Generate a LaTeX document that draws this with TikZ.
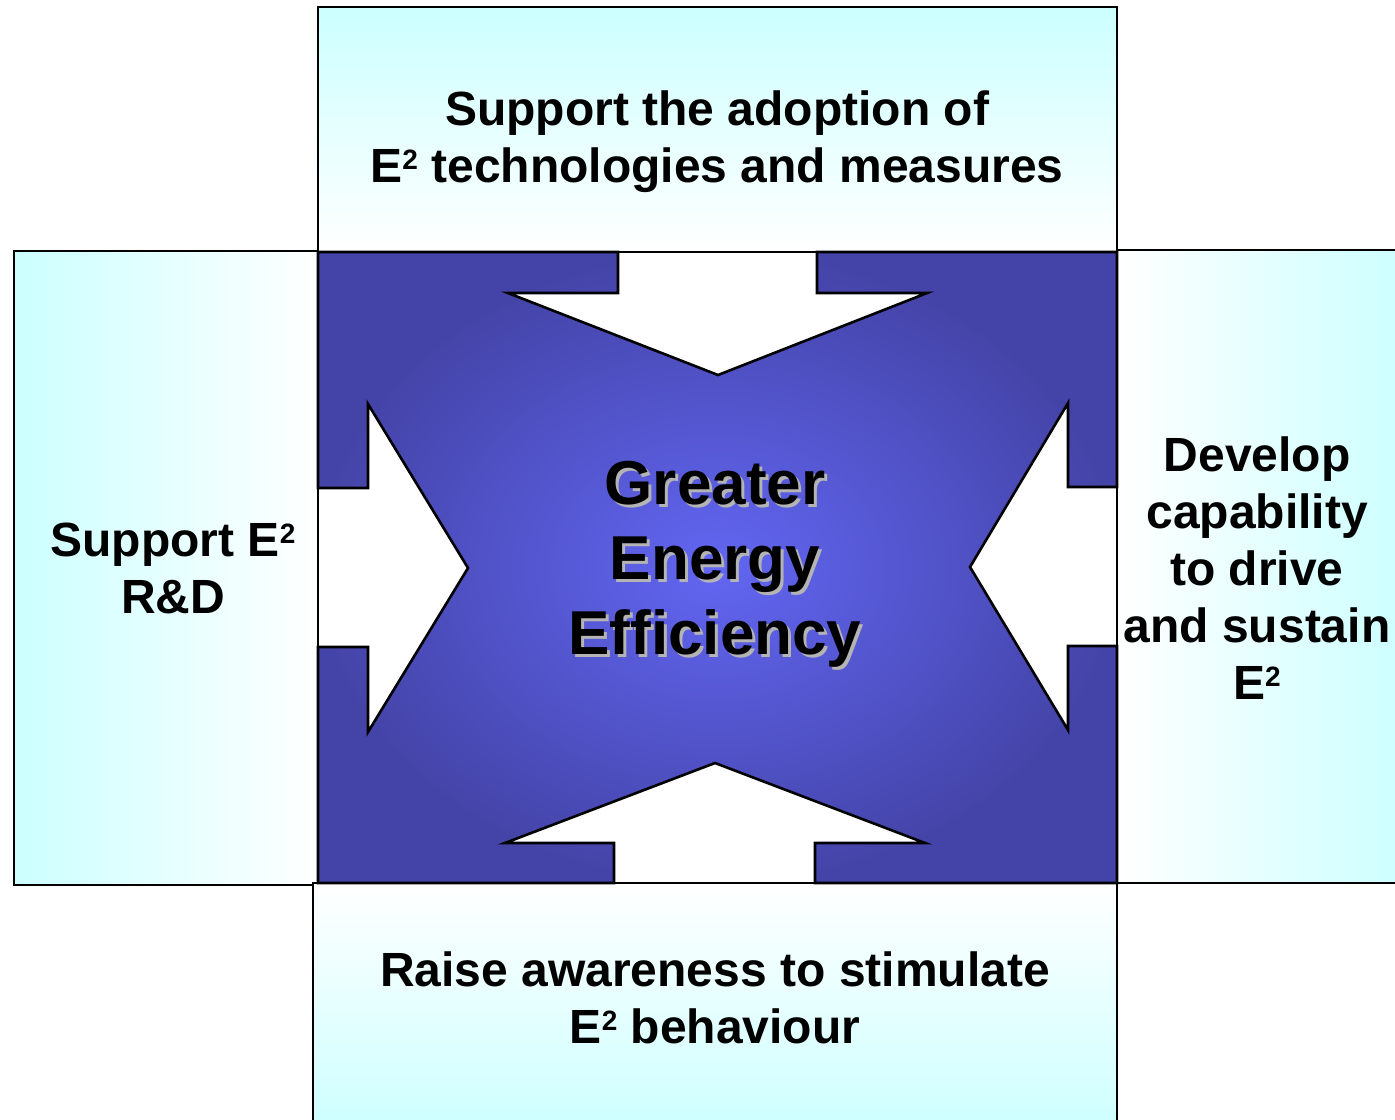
\documentclass[tikz,border=0pt]{standalone}
\usepackage{fontspec}
\setmainfont{Liberation Sans}

\definecolor{paleaqua}{RGB}{204,255,255}
\definecolor{coreblue}{RGB}{98,102,242}
\definecolor{rimblue}{RGB}{68,68,168}
\definecolor{shadowgray}{RGB}{180,180,180}

\newcommand{\etwo}{E\raisebox{6.5pt}{\fontsize{14}{14}\selectfont 2}}

\begin{document}
\begin{tikzpicture}[x=0.5pt,y=-0.5pt,
      panel/.style={draw=black,line width=1.3pt},
      caption/.style={align=center,inner sep=0pt,font=\fontsize{24}{28.5}\selectfont\bfseries},
      coretext/.style={align=center,inner sep=0pt,font=\fontsize{31}{37.5}\selectfont\bfseries}]
         \useasboundingbox (0,0) rectangle (1395,1119);
         % four panels round the centre
         \shade[panel,top color=paleaqua,bottom color=white] (318,7) rectangle (1117,252);
         \shade[panel,left color=paleaqua,right color=white] (14,251) rectangle (318,885);
         \shade[panel,left color=white,right color=paleaqua] (1117,250) rectangle (1410,883);
         \shade[panel,top color=white,bottom color=paleaqua] (313,883) rectangle (1117,1135);
         % blue square with the four arrows cut out
         \shade[panel,inner color=coreblue,outer color=rimblue]
            (318,252) -- (618,252) -- (618,293) -- (508,293) -- (718,375)
            -- (927,293) -- (817,293) -- (817,252) -- (1117,252)
            -- (1117,487) -- (1068,487) -- (1068,403) -- (970,567)
            -- (1068,730) -- (1068,646) -- (1117,646) -- (1117,883)
            -- (815,883) -- (815,843) -- (925,843) -- (715,763)
            -- (505,843) -- (614,843) -- (614,883) -- (318,883)
            -- (318,647) -- (368,647) -- (368,732) -- (468,568)
            -- (368,404) -- (368,488) -- (318,488) -- cycle ;
         \node[caption] (adopt) at (717,142) {Support the adoption of\\\etwo{} technologies and measures} ;
         \node[caption] (research) at (173,568) {Support \etwo\\R\&D} ;
         \node[caption] (capability) at (1257,568) {Develop\\capability\\to drive\\and sustain\\\etwo} ;
         \node[caption] (awareness) at (715,998) {Raise awareness to stimulate\\\etwo{} behaviour} ;
         \node[coretext,text=shadowgray] (coreshadow) at (718,567) {Greater\\Energy\\Efficiency} ;
         \node[coretext] (core) at (715,564) {Greater\\Energy\\Efficiency} ;
      \end{tikzpicture}
\end{document}
